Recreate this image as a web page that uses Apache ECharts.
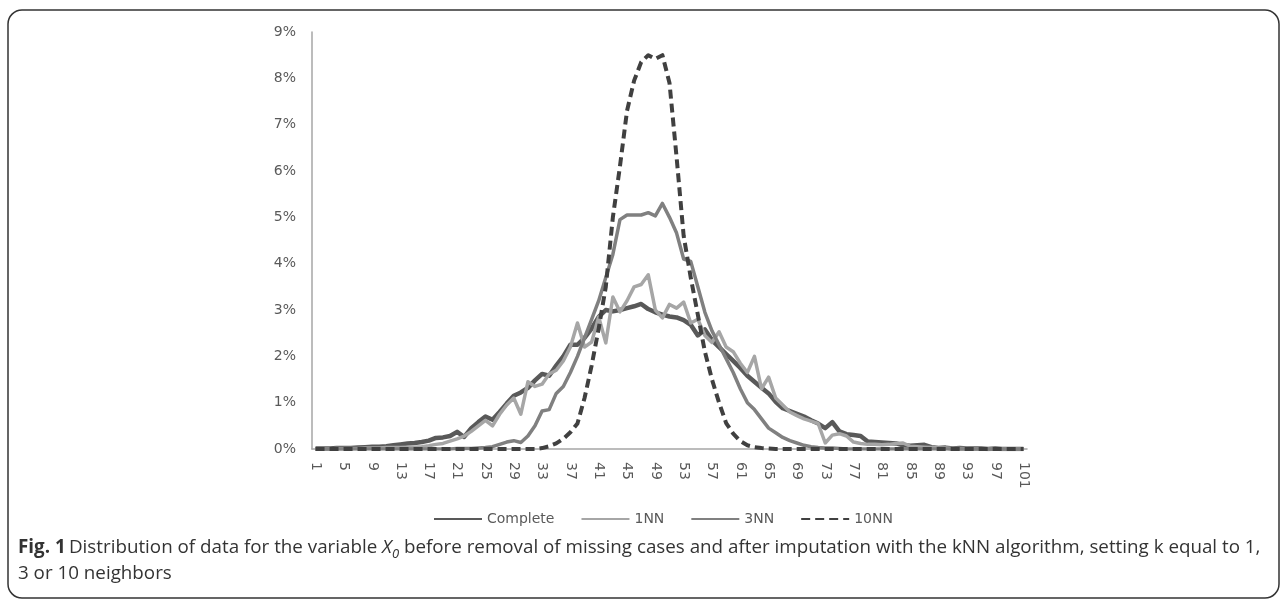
<!DOCTYPE html>
<html>
<head>
<meta charset="utf-8">
<script src="https://cdn.jsdelivr.net/npm/echarts@6/dist/echarts.min.js"></script>
<style>
html,body{margin:0;padding:0;background:#fff;}
#chart{width:1287px;height:599px;}
</style>
</head>
<body>
<div id="chart"></div>
<script>
// Categories 1..101
const categories = [];
for (let i = 1; i <= 101; i++) categories.push(String(i));

const seriesNames = ['Complete', '1NN', '3NN', '10NN'];

// values in percent
const complete = [
  0.01,0.01,0.01,0.02,0.02,0.02,0.03,0.04,0.05,0.05,
  0.06,0.08,0.10,0.12,0.13,0.15,0.18,0.24,0.25,0.28,
  0.37,0.26,0.45,0.58,0.70,0.63,0.80,0.98,1.15,1.22,
  1.32,1.48,1.62,1.58,1.80,2.00,2.25,2.25,2.40,2.60,
  2.85,3.00,2.97,3.00,3.04,3.08,3.13,3.02,2.95,2.90,
  2.86,2.84,2.78,2.68,2.45,2.58,2.35,2.20,2.05,1.90,
  1.75,1.58,1.45,1.32,1.20,1.02,0.88,0.82,0.76,0.70,
  0.62,0.55,0.45,0.58,0.38,0.32,0.30,0.28,0.16,0.15,
  0.14,0.13,0.12,0.08,0.07,0.08,0.09,0.04,0.02,0.03,
  0.01,0.02,0.01,0.01,0.01,0.00,0.01,0.00,0.00,0.00,
  0.00
];

const nn1 = [
  0.00,0.00,0.00,0.01,0.01,0.01,0.01,0.02,0.02,0.02,
  0.03,0.03,0.03,0.04,0.04,0.05,0.07,0.10,0.12,0.17,
  0.22,0.28,0.38,0.50,0.62,0.50,0.75,0.95,1.10,0.75,
  1.45,1.35,1.40,1.62,1.70,1.90,2.20,2.72,2.20,2.31,
  2.85,2.29,3.28,2.96,3.20,3.50,3.55,3.76,3.00,2.83,
  3.12,3.04,3.17,2.72,2.80,2.45,2.30,2.53,2.20,2.10,
  1.85,1.65,2.00,1.30,1.55,1.10,0.95,0.80,0.72,0.65,
  0.60,0.55,0.13,0.30,0.33,0.28,0.15,0.12,0.10,0.10,
  0.09,0.10,0.12,0.13,0.06,0.05,0.04,0.03,0.02,0.02,
  0.01,0.01,0.01,0.00,0.00,0.00,0.00,0.00,0.00,0.00,
  0.00
];

const nn3 = [
  0.00,0.00,0.00,0.00,0.00,0.00,0.00,0.00,0.00,0.00,
  0.00,0.00,0.00,0.00,0.00,0.00,0.00,0.00,0.00,0.00,
  0.01,0.01,0.01,0.02,0.03,0.05,0.10,0.15,0.18,0.14,
  0.28,0.50,0.82,0.85,1.20,1.35,1.65,2.00,2.40,2.80,
  3.20,3.70,4.20,4.95,5.05,5.05,5.05,5.10,5.03,5.30,
  5.00,4.66,4.10,4.05,3.50,2.95,2.55,2.25,1.95,1.65,
  1.30,1.00,0.85,0.65,0.45,0.35,0.25,0.18,0.13,0.08,
  0.05,0.03,0.02,0.02,0.01,0.00,0.00,0.00,0.00,0.00,
  0.00,0.00,0.00,0.00,0.00,0.00,0.00,0.00,0.00,0.00,
  0.00,0.00,0.00,0.00,0.00,0.00,0.00,0.00,0.00,0.00,
  0.00
];

const nn10 = [
  0.00,0.00,0.00,0.00,0.00,0.00,0.00,0.00,0.00,0.00,
  0.00,0.00,0.00,0.00,0.00,0.00,0.00,0.00,0.00,0.00,
  0.00,0.00,0.00,0.00,0.00,0.00,0.00,0.00,0.00,0.00,
  0.00,0.00,0.02,0.06,0.12,0.22,0.36,0.55,1.10,1.80,
  2.60,3.50,5.00,6.10,7.30,7.95,8.35,8.50,8.42,8.50,
  7.90,6.30,4.60,3.70,2.90,2.10,1.50,1.00,0.56,0.33,
  0.17,0.08,0.04,0.02,0.01,0.00,0.00,0.00,0.00,0.00,
  0.00,0.00,0.00,0.00,0.00,0.00,0.00,0.00,0.00,0.00,
  0.00,0.00,0.00,0.00,0.00,0.00,0.00,0.00,0.00,0.00,
  0.00,0.00,0.00,0.00,0.00,0.00,0.00,0.00,0.00,0.00,
  0.00
];

const yTicks = [0,1,2,3,4,5,6,7,8,9];

const chart = echarts.init(document.getElementById('chart'), null, {renderer: 'canvas'});

const axisFont = 'DejaVu Sans';
const txtColor = '#595959';

chart.setOption({
  backgroundColor: '#ffffff',
  animation: false,
  grid: {left: 312, right: 260, top: 32, bottom: 150, containLabel: false},
  legend: {
    data: seriesNames,
    left: 428,
    top: 507,
    itemWidth: 48,
    itemHeight: 14,
    itemGap: 26,
    itemStyle: {opacity: 0},
    textStyle: {fontFamily: axisFont, fontSize: 14, color: txtColor}
  },
  xAxis: {
    type: 'category',
    data: categories,
    boundaryGap: true,
    axisLine: {show: true, lineStyle: {color: '#a6a6a6', width: 1.5}},
    axisTick: {show: false},
    axisLabel: {
      interval: 3,
      rotate: -90,
      margin: 13,
      fontFamily: axisFont,
      fontSize: 14,
      color: txtColor
    },
    splitLine: {show: false}
  },
  yAxis: {
    type: 'value',
    min: yTicks[0],
    max: yTicks[yTicks.length - 1],
    interval: 1,
    axisLine: {show: true, lineStyle: {color: '#a6a6a6', width: 1.5}},
    axisTick: {show: false},
    axisLabel: {
      formatter: '{value}%',
      margin: 16,
      fontFamily: axisFont,
      fontSize: 14,
      color: txtColor
    },
    splitLine: {show: false}
  },
  series: [
    {name: seriesNames[0], type: 'line', data: complete, symbol: 'none', lineStyle: {color: '#595959', width: 4.5, join: 'round'}, itemStyle: {color: '#595959'}},
    {name: seriesNames[1], type: 'line', data: nn1, symbol: 'none', lineStyle: {color: '#a6a6a6', width: 3.5, join: 'round'}, itemStyle: {color: '#a6a6a6'}},
    {name: seriesNames[2], type: 'line', data: nn3, symbol: 'none', lineStyle: {color: '#808080', width: 3.5, join: 'round'}, itemStyle: {color: '#808080'}},
    {name: seriesNames[3], type: 'line', data: nn10, symbol: 'none', lineStyle: {color: '#404040', width: 4, type: [9, 5], join: 'round'}, itemStyle: {color: '#404040'}}
  ],
  graphic: [
    {
      type: 'rect',
      shape: {x: 8, y: 10, width: 1271, height: 588, r: 14},
      style: {fill: 'none', stroke: '#333333', lineWidth: 1.5},
      silent: true
    },
    {
      type: 'text',
      left: 18,
      top: 538,
      style: {
        text: '{b|Fig. 1} {n|Distribution of data for the variable }{i|X}{s|0}{n| before removal of missing cases and after imputation with the kNN algorithm, setting k equal to 1,}\n{n|3 or 10 neighbors}',
        fill: '#333333',
        rich: {
          b: {fontFamily: 'Open Sans', fontWeight: 'bold', fontSize: 18.8, lineHeight: 26, fill: '#333333'},
          n: {fontFamily: 'Open Sans', fontSize: 18.8, lineHeight: 26, fill: '#333333'},
          i: {fontFamily: 'Open Sans', fontStyle: 'italic', fontSize: 18.8, lineHeight: 26, fill: '#333333'},
          s: {fontFamily: 'Open Sans', fontStyle: 'italic', fontSize: 13, lineHeight: 16, verticalAlign: 'bottom', fill: '#333333'}
        }
      }
    }
  ]
});
</script>
</body>
</html>
